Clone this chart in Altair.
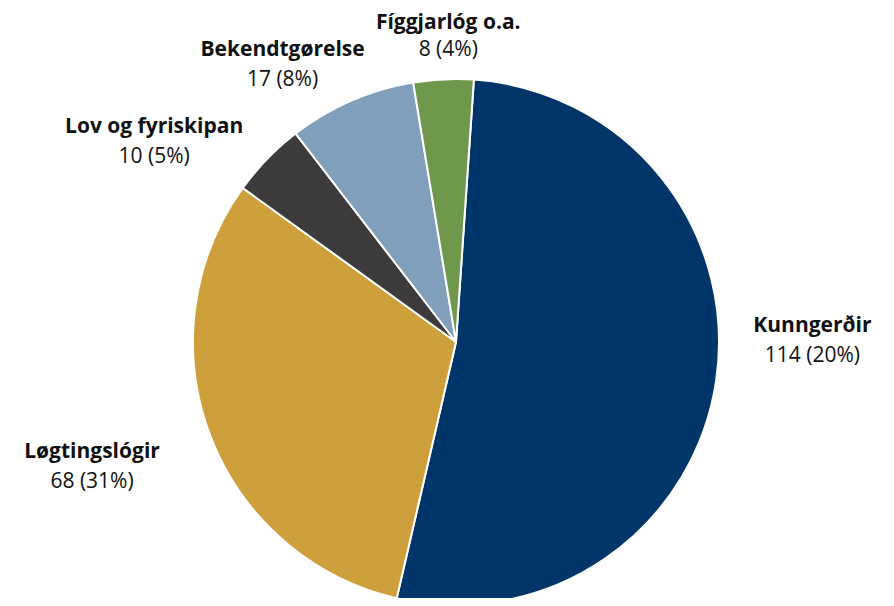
import math
import altair as alt
import pandas as pd

# ---- data ----
categories = ["Kunngerðir", "Løgtingslógir", "Lov og fyriskipan", "Bekendtgørelse", "Fíggjarlóg o.a."]
counts = [114, 68, 10, 17, 8]
pct_labels = ["20%", "31%", "5%", "8%", "4%"]
colors = ["#00356a", "#cea03b", "#3c3a3b", "#7f9fba", "#6f984c"]

df = pd.DataFrame({
    "cat": categories,
    "count": counts,
    "idx": list(range(len(categories))),
    "value_label": [f"{c} ({p})" for c, p in zip(counts, pct_labels)],
})

# ---- layout ----
total = sum(counts)
start = math.radians(3.9)
theta_scale = alt.Scale(domain=[0, total], range=[start, start + 2 * math.pi])
color_scale = alt.Scale(domain=categories, range=colors)
CX, CY = 448, 334
R = 263
LABEL_R = 330
FONT = "Open Sans"
FS = 21
# per-category label nudges (dx, dy_name, dy_value) relative to the radial anchor
nudges = {
    "Kunngerðir": (30, -65, -35),
    "Løgtingslógir": (-55, -6, 24),
    "Lov og fyriskipan": (-65, 15, 45),
    "Bekendtgørelse": (-42, 11, 41),
    "Fíggjarlóg o.a.": (8, 11, 38),
}

base = alt.Chart(df)

pie = base.mark_arc(outerRadius=R, stroke="white", strokeWidth=2).encode(
    theta=alt.Theta("count:Q", stack=True, scale=theta_scale),
    order=alt.Order("idx:Q"),
    color=alt.Color("cat:N", scale=color_scale, legend=None),
    x=alt.value(CX),
    y=alt.value(CY),
)

lab_base = base.transform_window(
    cum="sum(count)", sort=[alt.SortField("idx")], frame=[None, 0]
).transform_calculate(mid="datum.cum - datum.count / 2")

layers = [pie]
for c in categories:
    ndx, ndy_name, ndy_val = nudges[c]
    f = lab_base.transform_filter(alt.datum.cat == c)
    name = f.mark_text(
        radius=LABEL_R, dx=ndx, dy=ndy_name, font=FONT, fontSize=FS,
        fontWeight="bold", color="#111111", align="center", baseline="middle",
    ).encode(
        theta=alt.Theta("mid:Q", stack=None, scale=theta_scale),
        text="cat:N", x=alt.value(CX), y=alt.value(CY),
    )
    val = f.mark_text(
        radius=LABEL_R, dx=ndx, dy=ndy_val, font=FONT, fontSize=FS,
        fontWeight="normal", color="#111111", align="center", baseline="middle",
    ).encode(
        theta=alt.Theta("mid:Q", stack=None, scale=theta_scale),
        text="value_label:N", x=alt.value(CX), y=alt.value(CY),
    )
    layers += [name, val]

chart = alt.layer(*layers).properties(
    width=878, height=590, padding=0, autosize="none"
).configure_view(stroke=None)

chart.save("out.html", embed_options={"renderer": "svg", "actions": False})
